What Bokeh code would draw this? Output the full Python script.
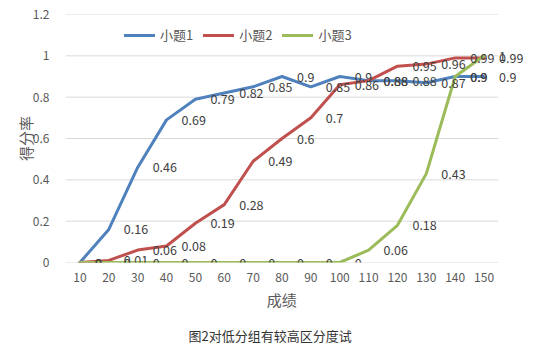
from bokeh.plotting import figure
from bokeh.models import (ColumnDataSource, Range1d, FixedTicker,
                          LabelSet, Legend, LegendItem, Title)
from bokeh.core.properties import value
from bokeh.embed import file_html
from bokeh.resources import INLINE

categories = [10, 20, 30, 40, 50, 60, 70, 80, 90, 100, 110, 120, 130, 140, 150]
category_labels = ["10", "20", "30", "40", "50", "60", "70", "80", "90", "100",
                   "110", "120", "130", "140", "150"]
q1 = [0, 0.16, 0.46, 0.69, 0.79, 0.82, 0.85, 0.9, 0.85, 0.9, 0.88, 0.88, 0.87, 0.9, 0.9]
q2 = [0, 0.01, 0.06, 0.08, 0.19, 0.28, 0.49, 0.6, 0.7, 0.86, 0.88, 0.95, 0.96, 0.99, 0.99]
q3 = [0, 0, 0, 0, 0, 0, 0, 0, 0, 0, 0.06, 0.18, 0.43, 0.9, 1]
series_names = ["小题1", "小题2", "小题3"]
series_colors = ["#4F81BD", "#C0504D", "#9BBB59"]
y_ticks = [0, 0.2, 0.4, 0.6, 0.8, 1.0, 1.2]
y_tick_labels = ["0", "0.2", "0.4", "0.6", "0.8", "1", "1.2"]
x_title = "成绩"
y_title = "得分率"
caption = "图2对低分组有较高区分度试"

CJK = "Noto Sans CJK SC"

# category band half-width (categories are evenly spaced)
half = (categories[1] - categories[0]) / 2
x_lo = categories[0] - half
x_hi = categories[-1] + half
W, H = 540, 355
left_b, top_b, bottom_b = 65, 14, 93
plot_w = 433  # width of the category area in px
frame_right_extra = 37  # room for data labels right of the last category
px_per_unit = plot_w / (x_hi - x_lo)

p = figure(width=W, height=H,
           x_range=Range1d(x_lo, x_hi + frame_right_extra / px_per_unit),
           y_range=Range1d(y_ticks[0], y_ticks[-1]),
           output_backend="svg", toolbar_location=None,
           min_border_left=left_b,
           min_border_right=W - left_b - plot_w - frame_right_extra,
           min_border_top=top_b, min_border_bottom=bottom_b)
p.outline_line_color = None
p.background_fill_color = "white"
p.border_fill_color = "white"
p.xgrid.grid_line_color = None
p.ygrid.grid_line_color = None

# horizontal gridlines spanning only the category area
p.segment(x0=[x_lo] * len(y_ticks), x1=[x_hi] * len(y_ticks),
          y0=y_ticks, y1=y_ticks, line_color="#D9D9D9", line_width=1)

p.yaxis.ticker = FixedTicker(ticks=y_ticks)
p.yaxis.major_label_overrides = {t: l for t, l in zip(y_ticks, y_tick_labels)}
p.yaxis.axis_line_color = None
p.yaxis.major_tick_line_color = None
p.yaxis.minor_tick_line_color = None
p.yaxis.major_label_text_font = CJK
p.yaxis.major_label_text_font_size = "12px"
p.yaxis.major_label_text_color = "#595959"
p.yaxis.major_label_standoff = 10
p.yaxis.axis_label = y_title
p.yaxis.axis_label_text_font = CJK
p.yaxis.axis_label_text_font_size = "15px"
p.yaxis.axis_label_text_font_style = "normal"
p.yaxis.axis_label_text_color = "#595959"
p.yaxis.axis_label_standoff = -6

p.xaxis.ticker = FixedTicker(ticks=categories)
p.xaxis.major_label_overrides = {t: l for t, l in zip(categories, category_labels)}
p.xaxis.axis_line_color = None
p.xaxis.major_tick_line_color = None
p.xaxis.minor_tick_line_color = None
p.xaxis.major_label_text_font = CJK
p.xaxis.major_label_text_font_size = "12px"
p.xaxis.major_label_text_color = "#595959"
p.xaxis.major_label_standoff = 4
# trailing ideographic spaces keep the title centred on the category area
# (the frame is wider on the right to leave room for the last data labels)
p.xaxis.axis_label = x_title + "\u3000\u3000\u2002"
p.xaxis.axis_label_text_font = CJK
p.xaxis.axis_label_text_font_size = "15px"
p.xaxis.axis_label_text_font_style = "normal"
p.xaxis.axis_label_text_color = "#595959"
p.xaxis.axis_label_standoff = 4

items = []
for name, vals, col in zip(series_names, [q1, q2, q3], series_colors):
    src = ColumnDataSource(dict(x=categories, y=vals))
    r = p.line("x", "y", source=src, line_color=col, line_width=3,
               line_join="round", line_cap="round")
    items.append(LegendItem(label=name, renderers=[r]))

for name, vals, col in zip(series_names, [q1, q2, q3], series_colors):
    src = ColumnDataSource(dict(x=categories, y=vals,
                                lab=[f"{v:g}" for v in vals]))
    ls = LabelSet(x="x", y="y", text="lab", source=src, x_offset=15, y_offset=0,
                  text_align="left", text_baseline="middle",
                  text_font=value(CJK), text_font_size="12.5px",
                  text_color="#404040")
    p.add_layout(ls)

legend = Legend(items=items, location=(59, 218), orientation="horizontal",
                border_line_color=None, background_fill_alpha=0,
                padding=0, margin=0, spacing=10, glyph_width=31,
                glyph_height=14, label_height=14, label_standoff=5,
                label_text_font=CJK, label_text_font_size="13px",
                label_text_color="#595959")
p.add_layout(legend, "center")

cap = Title(text=caption, align="left", text_font=CJK,
            text_font_size="13px", text_font_style="normal",
            text_color="#333333", standoff=22, offset=123)
p.add_layout(cap, "below")

open("out.html", "w").write(file_html(p, INLINE))
